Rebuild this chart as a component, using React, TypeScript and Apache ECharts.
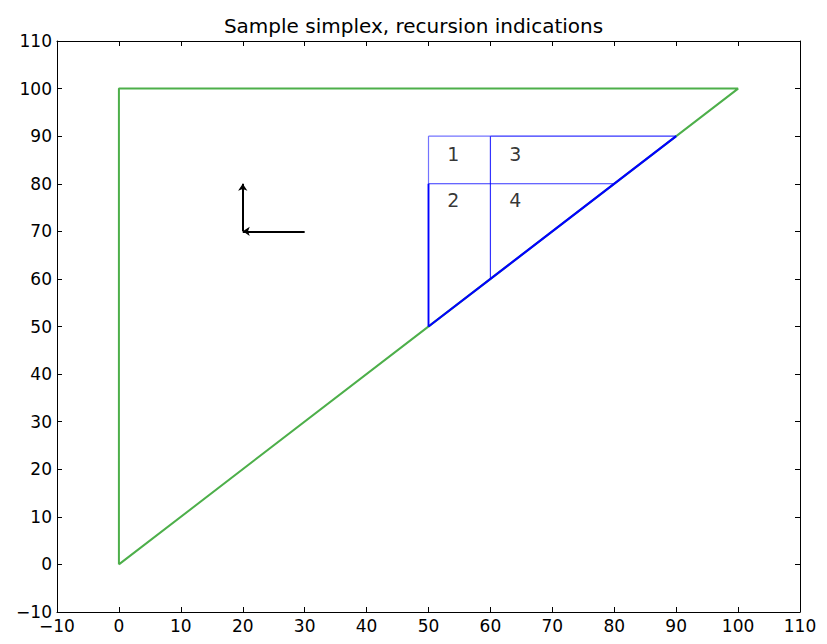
import React, { useEffect, useRef } from "react";
import * as echarts from "echarts";

const outerTriangle: [number, number][] = [[0, 0], [0, 100], [100, 100], [0, 0]];
const diagonal: [number, number][] = [[50, 50], [90, 90]];
const innerStrong: [number, number][][] = [
  [[50, 50], [50, 80]],
  [[60, 90], [90, 90]],
  [[60, 60], [60, 90]],
  [[50, 80], [80, 80]],
];
const innerLight: [number, number][][] = [
  [[50, 80], [50, 90]],
  [[50, 90], [60, 90]],
];
const arrows: [number, number][][] = [
  [[20, 70], [20, 80]],
  [[30, 70], [20, 70]],
];
const cellLabels: { name: string; value: [number, number] }[] = [
  { name: "1", value: [54, 86.3] },
  { name: "3", value: [64, 86.3] },
  { name: "2", value: [54, 76.5] },
  { name: "4", value: [64, 76.5] },
];
const axisMin = -10;
const axisMax = 110;
const axisStep = 10;

const fmt = (v: number) => String(v).replace("-", "\u2212");

export default function App() {
  const ref = useRef<HTMLDivElement>(null);
  useEffect(() => {
    const chart = echarts.init(ref.current!, null, { renderer: "svg" });
    const font = "DejaVu Sans";
    const baseAxis = {
      type: "value" as const,
      min: axisMin,
      max: axisMax,
      interval: axisStep,
      splitLine: { show: false },
      axisLine: { show: true, onZero: false, lineStyle: { color: "#000", width: 1 } },
      axisTick: { show: true, inside: true, length: 5, lineStyle: { color: "#000" } },
    };
    const blue = "#0000ff";
    chart.setOption({
      animation: false,
      title: {
        text: "Sample simplex, recursion indications",
        left: "center",
        top: 11,
        textStyle: { fontFamily: font, fontSize: 20, fontWeight: "normal", color: "#000" },
      },
      grid: { left: 57, right: 27, top: 41, bottom: 32 },
      xAxis: [
        {
          ...baseAxis,
          position: "bottom",
          axisLabel: { formatter: fmt, fontFamily: font, fontSize: 17, color: "#000", margin: 5 },
        },
        { ...baseAxis, position: "top", axisLabel: { show: false } },
      ],
      yAxis: [
        {
          ...baseAxis,
          position: "left",
          axisLabel: { formatter: fmt, fontFamily: font, fontSize: 17, color: "#000", margin: 5 },
        },
        { ...baseAxis, position: "right", axisLabel: { show: false } },
      ],
      series: [
        {
          type: "line",
          data: outerTriangle,
          symbol: "none",
          lineStyle: { color: "#4daf4a", width: 2 },
        },
        ...innerLight.map((seg) => ({
          type: "line",
          data: seg,
          symbol: "none",
          lineStyle: { color: "rgba(0,0,255,0.55)", width: 1.2 },
        })),
        ...innerStrong.map((seg) => ({
          type: "line",
          data: seg,
          symbol: "none",
          lineStyle: { color: "rgba(0,0,255,0.8)", width: 1.2 },
        })),
        {
          type: "line",
          data: diagonal,
          symbol: "none",
          lineStyle: { color: blue, width: 2.2 },
        },
        {
          type: "line",
          data: [[50, 50], [50, 80]],
          symbol: "none",
          lineStyle: { color: blue, width: 1.8 },
        },
        {
          type: "lines",
          coordinateSystem: "cartesian2d",
          symbol: ["none", "arrow"],
          symbolSize: 7,
          lineStyle: { color: "#000", width: 2, opacity: 1 },
          data: arrows.map((c) => ({ coords: c })),
        },
        {
          type: "scatter",
          symbolSize: 0,
          data: cellLabels,
          itemStyle: { color: "#000" },
          label: {
            show: true,
            position: "inside",
            formatter: (p: any) => p.name,
            fontFamily: font,
            fontSize: 19,
            color: "#000",
          },
        },
      ],
    });
    return () => chart.dispose();
  }, []);
  return <div ref={ref} style={{ width: 827, height: 644, position: "absolute", left: 0, top: 0, background: "#fff" }} />;
}
